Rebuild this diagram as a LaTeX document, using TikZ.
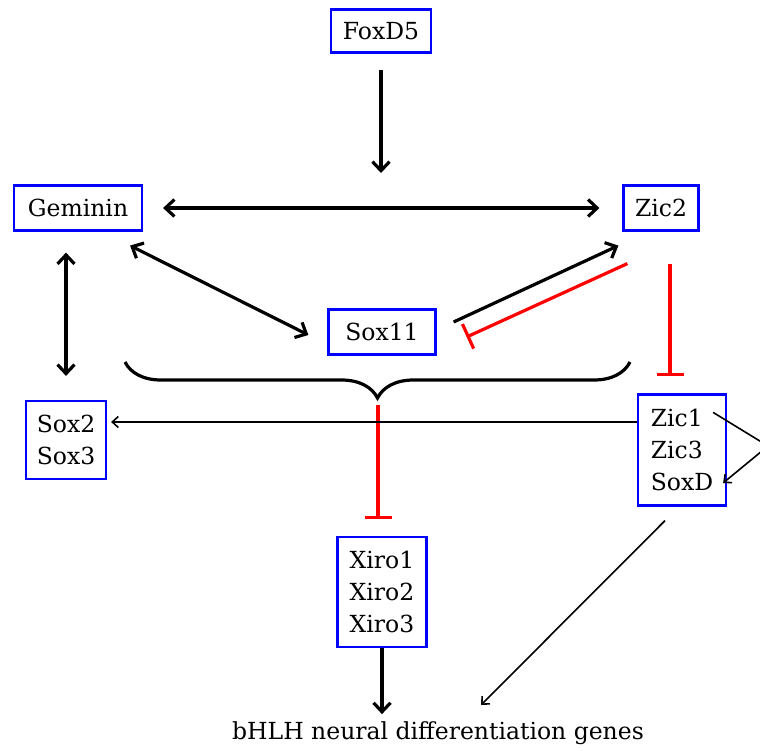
\documentclass[tikz,border=0pt]{standalone}
\usepackage{fontspec}
\setmainfont{DejaVu Serif}
\usetikzlibrary{arrows.meta,decorations.pathreplacing,calc}
\begin{document}
\begin{tikzpicture}[x=1pt,y=-1pt,
  box/.style={draw=blue,line width=2.2pt,inner sep=0pt,font=\fontsize{23.5}{32}\selectfont,align=center},
  act/.style={line width=3.2pt,-{Straight Barb[length=9pt,width=17pt]}},
  dact/.style={line width=3.2pt,{Straight Barb[length=9pt,width=17pt]}-{Straight Barb[length=9pt,width=17pt]}},
  tarr/.style={line width=1.6pt,-{Straight Barb[length=6pt,width=11pt]}},
  inh/.style={red,line width=3.2pt,-{Bar[width=27pt]}},
  lbl/.style={font=\fontsize{23.5}{32}\selectfont,inner sep=0pt}]
\useasboundingbox (0,0) rectangle (760,750);
\node[box,minimum width=100pt,minimum height=43pt] (fox) at (381,31) {FoxD5};
\node[box,minimum width=128pt,minimum height=45pt] (gem) at (78,208) {Geminin};
\node[box,minimum width=75pt,minimum height=45pt] (zic2) at (661,208) {Zic2};
\node[box,minimum width=107pt,minimum height=45pt] (sox11) at (382,332) {Sox11};
\node[box,minimum width=80pt,minimum height=78pt] (sox23) at (66,440) {Sox2\\Sox3};
\node[box,minimum width=88pt,minimum height=111pt,align=left] (zic) at (682,450) {Zic1\\Zic3\\SoxD};
\node[box,minimum width=89pt,minimum height=110pt] (xiro) at (382,592) {Xiro1\\Xiro2\\Xiro3};
\node[lbl] (bhlh) at (438,733) {bHLH neural differentiation genes};
\coordinate (fx) at (381,173);
\coordinate (tip) at (378,398);
\coordinate (lp) at (768,446);
\coordinate (bt) at (481,705);
% FoxD5 arrow
\draw[act,shorten <=16pt] (fox.south) -- (fx);
% Geminin <-> Zic2
\draw[dact,shorten <=20pt,shorten >=23pt] (gem.east) -- (zic2.west);
% Geminin <-> Sox11
\draw[dact] ($(gem.south east)+(-13,14)$) -- ($(sox11.west)+(-19,3)$);
% Geminin <-> Sox2/3
\draw[dact,shorten <=21pt,shorten >=24pt] (gem.south -| sox23.north) -- (sox23.north);
% Sox11 -> Zic2
\draw[act] ($(sox11.east)+(17,-10)$) -- ($(zic2.south west)+(-4,14)$);
% Zic2 -| Sox11
\draw[inh] ($(zic2.south west)+(5,32)$) -- ($(sox11.east)+(30,5)$);
% Zic2 -| Zic1
\draw[inh] ($(zic2.south)+(9,32)$) -- ($(zic.north)+(-12,-17)$);
% brace
\draw[line width=3.2pt,decorate,decoration={brace,mirror,amplitude=36pt}] (125,362) -- (630,362);
% brace -| Xiro
\draw[inh,shorten <=7pt,shorten >=17pt] (tip) -- (tip |- xiro.north);
% Zic1 -> Sox2
\draw[tarr] ($(zic.west)+(0,-28)$) -- ($(sox23.east)+(4,-18)$);
% self loop
\draw[tarr] ($(zic.north east)+(-14,19)$) -- (lp) -- ($(zic.east)+(-4,33)$);
% Zic -> bHLH
\draw[tarr] ($(zic.south)+(-17,14)$) -- (bt);
% Xiro -> bHLH
\draw[act] (xiro.south) -- ($(xiro.south)+(0,66)$);
\end{tikzpicture}
\end{document}
